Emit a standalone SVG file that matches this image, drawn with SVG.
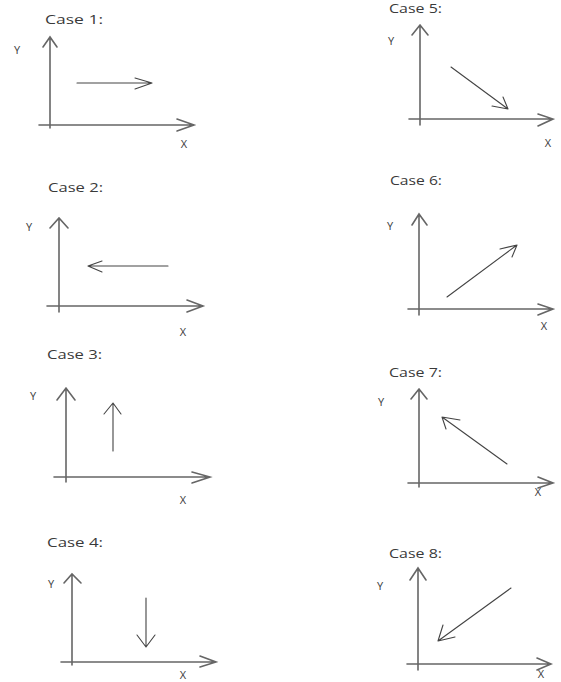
<svg xmlns="http://www.w3.org/2000/svg" width="561" height="682" viewBox="0 0 561 682">
<style>
.t{font-family:"Open Sans","DejaVu Sans",sans-serif;font-size:12px;fill:#3a3a3a}
.a{font-family:"Open Sans","DejaVu Sans",sans-serif;font-size:11px;fill:#3a3a3a;text-anchor:middle}
.ax{stroke:#666;stroke-width:1.6;fill:none;stroke-linecap:round}
.v{stroke:#444;stroke-width:1.1;fill:none;stroke-linecap:round;stroke-linejoin:round}
</style>
<rect width="561" height="682" fill="#fff"/>
<g id="case1">
<text class="t" x="45" y="24" textLength="58" lengthAdjust="spacingAndGlyphs">Case 1:</text>
<text class="a" x="17" y="54">Y</text>
<text class="a" x="184" y="148">X</text>
<path class="ax" d="M50,37V128M43,47L50,37L57,47M39,125H194M177,119L194,125L177,131"/>
<path class="v" d="M77,83H152M135,78L152,83L135,89"/>
</g>
<g id="case2">
<text class="t" x="48" y="192" textLength="55" lengthAdjust="spacingAndGlyphs">Case 2:</text>
<text class="a" x="29" y="231">Y</text>
<text class="a" x="183" y="336">X</text>
<path class="ax" d="M59,218V312M50,228L59,218L68,228M47,306H203M187,300L203,306L187,312"/>
<path class="v" d="M168,266H88M102,261L88,266L102,272"/>
</g>
<g id="case3">
<text class="t" x="47" y="359" textLength="55" lengthAdjust="spacingAndGlyphs">Case 3:</text>
<text class="a" x="33" y="400">Y</text>
<text class="a" x="183" y="504">X</text>
<path class="ax" d="M66,388V482M57,400L66,388L75,400M54,477H210M192,472L210,477L192,483"/>
<path class="v" d="M113,451V403M104,414L113,403L121,414"/>
</g>
<g id="case4">
<text class="t" x="47" y="547" textLength="56" lengthAdjust="spacingAndGlyphs">Case 4:</text>
<text class="a" x="51" y="588">Y</text>
<text class="a" x="183" y="679">X</text>
<path class="ax" d="M72,574V665M64,583L72,574L81,583M61,662H216M200,656L216,662L200,667"/>
<path class="v" d="M146,598V647M137,635L146,647L155,635"/>
</g>
<g id="case5">
<text class="t" x="389" y="13" textLength="53" lengthAdjust="spacingAndGlyphs">Case 5:</text>
<text class="a" x="391" y="45">Y</text>
<text class="a" x="548" y="147">X</text>
<path class="ax" d="M420,25V125M412,35L420,25L428,35M409,119H553M538,114L553,119L538,126"/>
<path class="v" d="M451,67L508,109M492,106L508,109L503,97"/>
</g>
<g id="case6">
<text class="t" x="390" y="185" textLength="52" lengthAdjust="spacingAndGlyphs">Case 6:</text>
<text class="a" x="390" y="230">Y</text>
<text class="a" x="544" y="330">X</text>
<path class="ax" d="M419,214V315M412,225L419,214L427,225M408,309H553M538,304L553,309L538,315"/>
<path class="v" d="M447,297L517,245M500,249L517,245L512,257"/>
</g>
<g id="case7">
<text class="t" x="389" y="377" textLength="53" lengthAdjust="spacingAndGlyphs">Case 7:</text>
<text class="a" x="381" y="406">Y</text>
<text class="a" x="538" y="496">X</text>
<path class="ax" d="M419,389V487M411,399L419,389L427,399M408,483H553M538,477L553,483L538,488"/>
<path class="v" d="M507,464L442,417M460,420L442,417L446,429"/>
</g>
<g id="case8">
<text class="t" x="389" y="558" textLength="53" lengthAdjust="spacingAndGlyphs">Case 8:</text>
<text class="a" x="380" y="590">Y</text>
<text class="a" x="541" y="678">X</text>
<path class="ax" d="M418,568V670M410,580L418,568L426,580M407,664H551M537,658L551,664L537,670"/>
<path class="v" d="M511,588L438,641M443,625L438,641L455,637"/>
</g>
</svg>
